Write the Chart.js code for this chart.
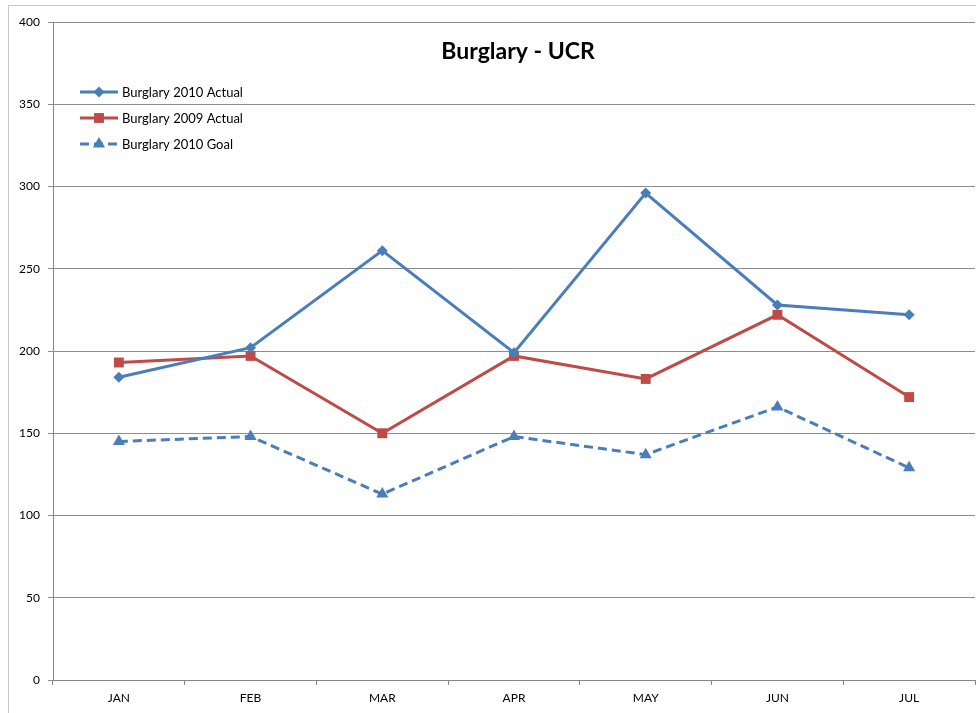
<!DOCTYPE html>
<html>
<head>
<meta charset="utf-8">
<script src="https://cdn.jsdelivr.net/npm/chart.js@4"></script>
<style>
    body { margin: 0; background: #fff; }
    #wrap { position: relative; width: 976px; height: 713px; }
    #frame { position: absolute; left: 8px; top: 5px; right: 0; bottom: 0; border-left: 1px solid #c8c8c8; border-top: 1px solid #c8c8c8; }
    canvas { position: absolute; left: 0; top: 0; }
</style>
</head>
<body>
<div id="wrap">
    <div id="frame"></div>
    <canvas id="burglary" width="976" height="713"></canvas>
</div>
<script>
// data
const months = ['JAN', 'FEB', 'MAR', 'APR', 'MAY', 'JUN', 'JUL'];
const actual2010 = [184, 202, 261, 199, 296, 228, 222];
const actual2009 = [193, 197, 150, 197, 183, 222, 172];
const goal2010 = [145, 148, 113, 148, 137, 166, 129];
const seriesNames = ['Burglary 2010 Actual', 'Burglary 2009 Actual', 'Burglary 2010 Goal'];
const chartTitle = 'Burglary - UCR';

const BLUE = '#4a7ebb';
const RED = '#be4b48';
const FONT = 'Lato, "Open Sans", sans-serif';

// title + legend are drawn inside the plot area like the excel original
const overlayPlugin = {
    id: 'overlay',
    afterDraw(chart) {
        const ctx = chart.ctx;
        ctx.save();
        ctx.fillStyle = '#000';
        ctx.font = 'bold 23px ' + FONT;
        ctx.textAlign = 'center';
        ctx.textBaseline = 'middle';
        ctx.fillText(chartTitle, 518, 52);

        ctx.font = '13px ' + FONT;
        ctx.textAlign = 'left';
        chart.data.datasets.forEach((ds, i) => {
            const y = 92 + i * 26;
            ctx.strokeStyle = ds.borderColor;
            ctx.lineWidth = 3;
            ctx.setLineDash(ds.borderDash || []);
            ctx.beginPath();
            ctx.moveTo(80, y);
            ctx.lineTo(118, y);
            ctx.stroke();
            ctx.setLineDash([]);
            ctx.fillStyle = ds.pointBackgroundColor;
            Chart.helpers.drawPoint(ctx, {
                pointStyle: ds.pointStyle,
                radius: ds.pointRadius,
                borderWidth: 0
            }, 99, y);
            ctx.fillStyle = '#000';
            ctx.fillText(ds.label, 122, y + 1);
        });
        ctx.restore();
    }
};

const ctx = document.getElementById('burglary').getContext('2d');
new Chart(ctx, {
    type: 'line',
    data: {
        labels: months,
        datasets: [{
            label: seriesNames[0],
            data: actual2010,
            borderColor: BLUE,
            backgroundColor: BLUE,
            pointBackgroundColor: BLUE,
            pointBorderWidth: 0,
            borderWidth: 3,
            pointStyle: 'rectRot',
            pointRadius: 5.5,
            tension: 0
        }, {
            label: seriesNames[1],
            data: actual2009,
            borderColor: RED,
            backgroundColor: RED,
            pointBackgroundColor: RED,
            pointBorderWidth: 0,
            borderWidth: 3,
            pointStyle: 'rect',
            pointRadius: 7,
            tension: 0
        }, {
            label: seriesNames[2],
            data: goal2010,
            borderColor: BLUE,
            backgroundColor: BLUE,
            pointBackgroundColor: BLUE,
            pointBorderWidth: 0,
            borderWidth: 3,
            borderDash: [9, 5],
            pointStyle: 'triangle',
            pointRadius: 7,
            tension: 0
        }]
    },
    options: {
        responsive: false,
        animation: false,
        layout: {
            autoPadding: false,
            padding: { left: 0, top: 22, right: 1, bottom: 0 }
        },
        plugins: {
            legend: { display: false },
            title: { display: false },
            tooltip: { enabled: false }
        },
        scales: {
            x: {
                offset: true,
                afterFit: scale => {
                    scale.height = 33;
                    scale.paddingLeft = 0;
                    scale.paddingRight = 0;
                },
                grid: {
                    offset: true,
                    drawOnChartArea: false,
                    drawTicks: true,
                    tickLength: 5,
                    color: '#868686'
                },
                border: { color: '#868686', width: 1 },
                ticks: {
                    color: '#000',
                    font: { family: FONT, size: 12 },
                    padding: 6,
                    maxRotation: 0
                }
            },
            y: {
                min: 0,
                max: 400,
                afterFit: scale => { scale.width = 53; },
                grid: {
                    color: '#8c8c8c',
                    lineWidth: 1,
                    tickLength: 5
                },
                border: { color: '#868686', width: 1 },
                ticks: {
                    stepSize: 50,
                    color: '#000',
                    font: { family: FONT, size: 12 },
                    padding: 8
                }
            }
        }
    },
    plugins: [overlayPlugin]
});
</script>
</body>
</html>
